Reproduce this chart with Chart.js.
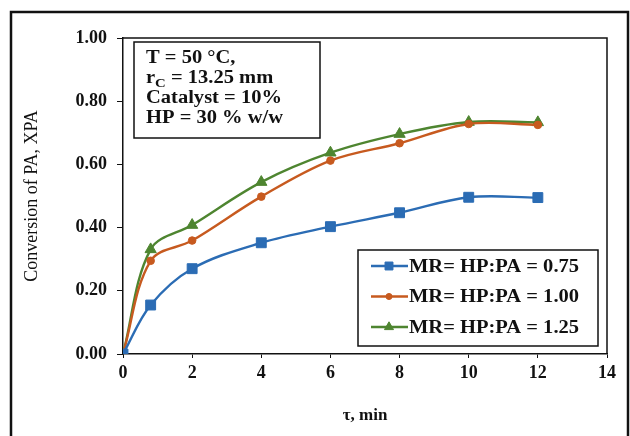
<!DOCTYPE html>
<html>
<head>
<meta charset="utf-8">
<script src="https://cdn.jsdelivr.net/npm/chart.js@4"></script>
<style>
  html, body { margin: 0; padding: 0; background: #fff; }
  #wrap { width: 630px; height: 436px; position: relative; }
</style>
</head>
<body>
<div id="wrap"><canvas id="myChart" width="630" height="436"></canvas></div>
<script>
// data
var timeMin = [0, 0.8, 2, 4, 6, 8, 10, 12];
var mr075 = [0, 0.155, 0.27, 0.352, 0.403, 0.447, 0.496, 0.495];
var mr100 = [0, 0.295, 0.359, 0.498, 0.612, 0.667, 0.728, 0.725];
var mr125 = [0, 0.331, 0.408, 0.544, 0.637, 0.696, 0.734, 0.733];
var seriesLabels = ['MR= HP:PA = 0.75', 'MR= HP:PA = 1.00', 'MR= HP:PA = 1.25'];
var xTicks = [0, 2, 4, 6, 8, 10, 12, 14];
var yTicks = [0, 0.2, 0.4, 0.6, 0.8, 1.0];
var noteLines = ['T = 50 °C,', 'r|C| = 13.25 mm', 'Catalyst = 10%', 'HP = 30 % w/w'];

var SERIF = '"Liberation Serif", "DejaVu Serif", serif';
var STRETCH = 1.14; // the source picture is a bit wide

function toPoints(ys) {
  return timeMin.map(function (t, i) { return { x: t, y: ys[i] }; });
}

function wideText(ctx, s, x, y) {
  ctx.save();
  ctx.translate(x, y);
  ctx.scale(STRETCH, 1);
  ctx.fillText(s, 0, 0);
  ctx.restore();
  return ctx.measureText(s).width * STRETCH;
}

// frame, plot box, note box and legend box
var decor = {
  id: 'decor',
  afterDraw: function (chart) {
    var ctx = chart.ctx;
    var a = chart.chartArea;
    ctx.save();
    // outer frame
    ctx.strokeStyle = '#111';
    ctx.lineWidth = 2.5;
    ctx.strokeRect(11, 12, 617, 450);
    // plot box top/right
    ctx.lineWidth = 1.5;
    ctx.beginPath();
    ctx.moveTo(a.left, a.top);
    ctx.lineTo(a.right, a.top);
    ctx.lineTo(a.right, a.bottom);
    ctx.stroke();

    // note box
    ctx.fillStyle = '#fff';
    ctx.fillRect(134, 42, 186, 96);
    ctx.lineWidth = 1.5;
    ctx.strokeRect(134, 42, 186, 96);
    ctx.fillStyle = '#111';
    ctx.textBaseline = 'alphabetic';
    noteLines.forEach(function (line, i) {
      var y = 63 + i * 20;
      var x = 146;
      line.split('|').forEach(function (p, j) {
        if (j % 2 === 1) {
          ctx.font = 'bold 13px ' + SERIF;
          x += wideText(ctx, p, x, y + 4);
        } else {
          ctx.font = 'bold 18px ' + SERIF;
          x += wideText(ctx, p, x, y);
        }
      });
    });

    // legend box
    ctx.fillStyle = '#fff';
    ctx.fillRect(358, 250, 240, 96);
    ctx.strokeStyle = '#111';
    ctx.lineWidth = 1.5;
    ctx.strokeRect(358, 250, 240, 96);
    chart.data.datasets.forEach(function (ds, i) {
      var y = 266 + i * 30.5;
      ctx.strokeStyle = ds.borderColor;
      ctx.lineWidth = 2.5;
      ctx.beginPath();
      ctx.moveTo(371, y);
      ctx.lineTo(408, y);
      ctx.stroke();
      ctx.fillStyle = ds.backgroundColor;
      ctx.lineWidth = 1;
      Chart.helpers.drawPoint(ctx, {
        pointStyle: ds.pointStyle,
        rotation: 0,
        borderWidth: 1,
        radius: ds.pointRadius * 0.8
      }, 389, y);
      ctx.fillStyle = '#111';
      ctx.font = 'bold 18px ' + SERIF;
      ctx.textBaseline = 'middle';
      wideText(ctx, ds.label, 409, y + 1);
    });
    ctx.restore();
  }
};

var ctx = document.getElementById('myChart').getContext('2d');
var myChart = new Chart(ctx, {
  type: 'scatter',
  data: {
    datasets: [
      {
        label: seriesLabels[0],
        data: toPoints(mr075),
        borderColor: '#2b6cb4',
        backgroundColor: '#2b6cb4',
        pointStyle: 'rect',
        pointRadius: 7,
      },
      {
        label: seriesLabels[1],
        data: toPoints(mr100),
        borderColor: '#c75a1f',
        backgroundColor: '#c75a1f',
        pointStyle: 'circle',
        pointRadius: 3.8,
      },
      {
        label: seriesLabels[2],
        data: toPoints(mr125),
        borderColor: '#4e8530',
        backgroundColor: '#4e8530',
        pointStyle: 'triangle',
        pointRadius: 6.5,
      },
    ],
  },
  options: {
    responsive: false,
    animation: false,
    showLine: true,
    elements: {
      line: { borderWidth: 2.4, tension: 0.35, fill: false },
      point: { borderWidth: 1 },
    },
    layout: {
      padding: { left: 14, right: 23, top: 38, bottom: 10 },
    },
    plugins: {
      legend: { display: false },
      tooltip: { enabled: false },
    },
    scales: {
      x: {
        type: 'linear',
        min: 0,
        max: 14,
        afterBuildTicks: function (s) { s.ticks = xTicks.map(function (v) { return { value: v }; }); },
        afterFit: function (s) { s.height = 72; },
        grid: { drawOnChartArea: false, drawTicks: true, tickLength: 4, color: '#111', lineWidth: 1 },
        border: { color: '#111', width: 1.5 },
        ticks: {
          color: '#111',
          padding: 5,
          font: { family: SERIF, size: 18, weight: 'bold' },
          callback: function (v) { return v; },
        },
        title: {
          display: true,
          text: 'τ, min',
          color: '#111',
          font: { family: SERIF, size: 17, weight: 'bold' },
          padding: { top: 0, bottom: 0 },
        },
      },
      y: {
        min: 0,
        max: 1,
        afterBuildTicks: function (s) { s.ticks = yTicks.map(function (v) { return { value: v }; }); },
        afterFit: function (s) { s.width = 109; },
        grid: { drawOnChartArea: false, drawTicks: true, tickLength: 6, color: '#111', lineWidth: 1 },
        border: { color: '#111', width: 1.5 },
        ticks: {
          color: '#111',
          padding: 10,
          font: { family: SERIF, size: 18, weight: 'bold' },
          callback: function (v) { return v.toFixed(2); },
        },
        title: {
          display: true,
          text: 'Conversion of PA, XPA',
          color: '#111',
          font: { family: SERIF, size: 18 },
          padding: { top: 7, bottom: 0 },
        },
      },
    },
  },
  plugins: [decor],
});
</script>
</body>
</html>
